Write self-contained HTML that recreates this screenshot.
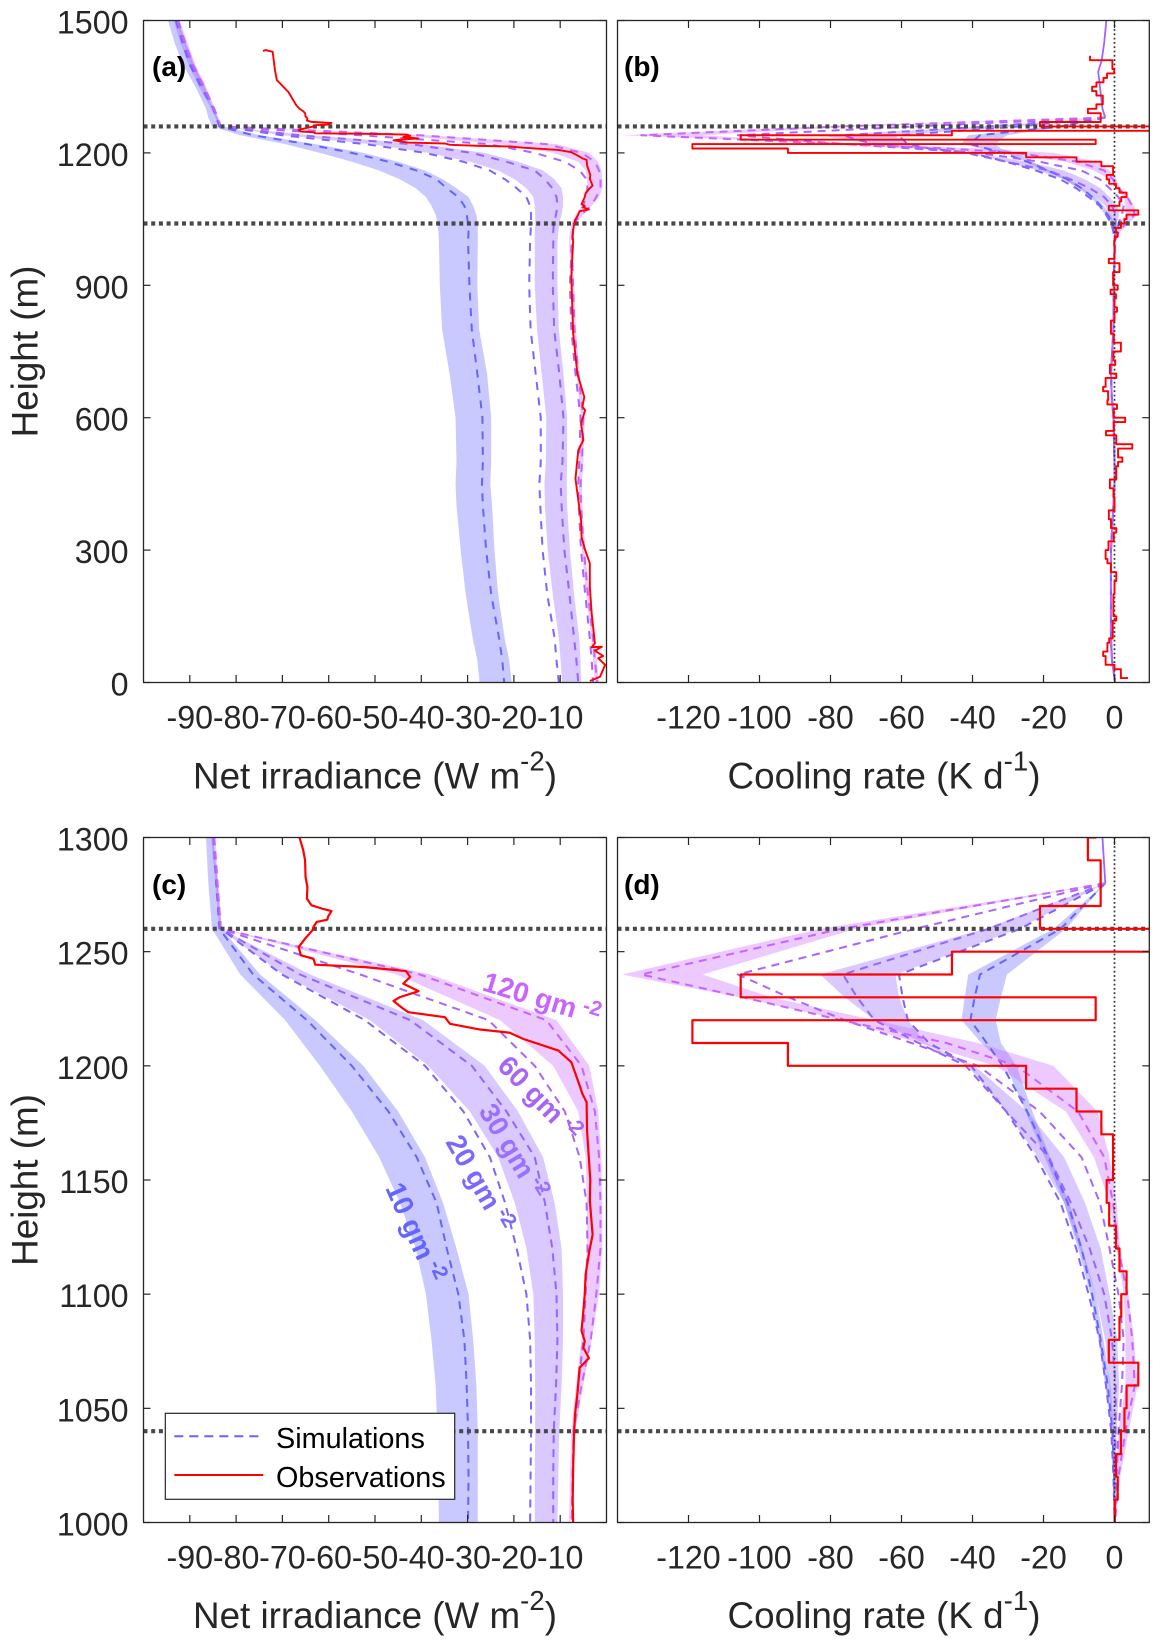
<!DOCTYPE html>
<html lang="en">
<head>
<meta charset="utf-8">
<title>Net irradiance and cooling rate profiles</title>
<style>
html,body{margin:0;padding:0;background:#fff;overflow:hidden;width:1160px;height:1646px;}
svg{display:block;font-family:"Liberation Sans",sans-serif;}
.tick{font-size:32.2px;fill:#262626;}
.title{font-size:36.8px;fill:#262626;}
.plabel{font-size:28px;font-weight:bold;fill:#000;}
.clabel{font-size:28px;font-weight:bold;}
.leg{font-size:28.8px;fill:#000;}
</style>
</head>
<body>
<svg id="chart" xmlns="http://www.w3.org/2000/svg" width="1160" height="1646" viewBox="0 0 1160 1646">
<rect x="0" y="0" width="1160" height="1646" fill="#fff"/>
<defs>
<clipPath id="clip-a"><rect x="143.5" y="20.5" width="463" height="662"/></clipPath>
<clipPath id="clip-b"><rect x="617.5" y="20.5" width="531.8" height="662"/></clipPath>
<clipPath id="clip-c"><rect x="143.5" y="837.5" width="463" height="685"/></clipPath>
<clipPath id="clip-d"><rect x="617.5" y="837.5" width="531.8" height="685"/></clipPath>
</defs>
<g id="marks"></g>
<g id="axes"></g>
<g id="texts">
<text class="title" text-anchor="middle" transform="translate(37.5,351.5) rotate(-90)">Height (m)</text>
<text class="title" text-anchor="middle" transform="translate(37.5,1180) rotate(-90)">Height (m)</text>
<text class="title" x="375" y="788.7" text-anchor="middle">Net irradiance (W m<tspan font-size="27.6" dy="-18">-2</tspan><tspan dy="18">)</tspan></text>
<text class="title" x="884" y="788.7" text-anchor="middle">Cooling rate (K d<tspan font-size="27.6" dy="-18">-1</tspan><tspan dy="18">)</tspan></text>
<text class="title" x="375" y="1628" text-anchor="middle">Net irradiance (W m<tspan font-size="27.6" dy="-18">-2</tspan><tspan dy="18">)</tspan></text>
<text class="title" x="884" y="1628" text-anchor="middle">Cooling rate (K d<tspan font-size="27.6" dy="-18">-1</tspan><tspan dy="18">)</tspan></text>
<text class="plabel" x="152" y="76">(a)</text>
<text class="plabel" x="624" y="76">(b)</text>
<text class="plabel" x="152" y="894">(c)</text>
<text class="plabel" x="624" y="894">(d)</text>
<text class="clabel" fill="#c864ff" transform="translate(481,990) rotate(17)">120 gm<tspan font-size="21" dy="-9" dx="6">-2</tspan></text>
<text class="clabel" fill="#a864f5" transform="translate(496,1067) rotate(46)">60 gm<tspan font-size="21" dy="-9" dx="6">-2</tspan></text>
<text class="clabel" fill="#9a70ff" transform="translate(478,1111) rotate(59)">30 gm<tspan font-size="21" dy="-9" dx="6">-2</tspan></text>
<text class="clabel" fill="#7a68ff" transform="translate(445,1142) rotate(60)">20 gm<tspan font-size="21" dy="-9" dx="6">-2</tspan></text>
<text class="clabel" fill="#6464ff" transform="translate(385,1188) rotate(66)">10 gm<tspan font-size="21" dy="-9" dx="6">-2</tspan></text>
<g>
<rect x="165.3" y="1413.3" width="289.4" height="86" fill="#fff" stroke="#262626" stroke-width="1.2"/>
<line x1="174.3" x2="263.3" y1="1436.3" y2="1436.3" stroke="#6464ff" stroke-width="2" stroke-dasharray="9 6"/>
<text class="leg" x="276" y="1448">Simulations</text>
<line x1="174.3" x2="263.3" y1="1475" y2="1475" stroke="#ff0000" stroke-width="2"/>
<text class="leg" x="276" y="1487">Observations</text>
</g>
</g>
</svg>
<script>
// ---------- Net irradiance profiles (W m-2) ----------
const netHeights=[1500,1450,1400,1350,1300,1280,1260,1240,1220,1200,1180,1160,1140,1120,1100,1080,1060,1040,1020,1000,900,800,700,600,500,450,400,300,200,100,50,0];
const net10Low=[-94.7,-93.3,-91.5,-88.8,-86.5,-86.0,-85.2,-79.1,-69.4,-61.9,-55.0,-49.1,-44.6,-41.2,-39.0,-37.8,-36.9,-36.5,-36.3,-36.2,-36.0,-35.5,-33.9,-32.6,-32.4,-32.6,-32.4,-31.5,-30.4,-28.9,-27.9,-27.4];
const net10High=[-92.4,-91.0,-89.2,-86.8,-84.9,-84.0,-83.1,-74.8,-62.9,-52.5,-45.0,-39.2,-35.3,-32.4,-29.8,-28.8,-28.1,-27.8,-27.8,-27.8,-27.9,-27.5,-25.8,-24.9,-24.9,-25.1,-24.7,-24.2,-23.4,-22.0,-21.0,-20.5];
const net10=[-93.0,-91.6,-90.0,-87.6,-84.9,-84.3,-83.6,-76.3,-64.7,-55.0,-47.1,-41.0,-36.7,-34.5,-32.0,-30.7,-30.2,-29.9,-29.8,-29.9,-29.6,-29.1,-27.9,-26.8,-26.7,-26.9,-26.7,-26.0,-24.9,-23.2,-22.5,-22.1];
const net20=[-92.9,-91.4,-89.8,-87.3,-84.9,-84.3,-83.3,-70.1,-52.2,-39.2,-30.9,-25.2,-21.9,-19.4,-17.3,-16.5,-16.3,-16.3,-16.4,-16.5,-16.7,-16.4,-15.3,-14.2,-14.2,-14.5,-14.3,-13.8,-12.8,-11.2,-10.8,-10.3];
const net30Low=[-93.5,-92.0,-90.3,-88.0,-85.4,-84.5,-83.6,-69.8,-51.1,-38.5,-29.5,-23.4,-19.8,-17.3,-15.8,-15.5,-15.4,-15.4,-15.5,-15.5,-15.5,-15.0,-14.0,-13.0,-13.1,-13.4,-13.3,-12.7,-11.6,-10.3,-9.9,-9.6];
const net30High=[-92.6,-90.8,-89.0,-86.8,-85.0,-84.0,-83.3,-64.0,-39.6,-26.3,-19.1,-13.7,-11.2,-9.7,-9.4,-9.4,-9.7,-10.2,-10.4,-10.6,-10.6,-10.3,-9.3,-8.5,-8.5,-8.6,-8.5,-7.9,-7.0,-5.9,-5.6,-5.5];
const net30=[-92.8,-91.3,-89.6,-87.2,-84.9,-84.3,-83.3,-66.2,-42.4,-29.1,-21.6,-15.5,-13.3,-11.7,-10.8,-10.6,-10.9,-11.4,-11.5,-11.5,-11.6,-11.3,-10.2,-9.3,-9.5,-9.9,-9.7,-9.1,-8.0,-7.0,-6.5,-6.1];
const net60=[-92.6,-91.1,-89.4,-87.0,-84.8,-84.1,-83.3,-53.2,-25.5,-15.5,-9.0,-5.8,-4.3,-4.1,-4.5,-5.0,-6.1,-7.1,-7.3,-7.5,-7.9,-7.6,-6.7,-5.6,-5.9,-6.1,-6.0,-5.5,-4.6,-3.6,-3.2,-2.9];
const net120Low=[-92.9,-91.2,-89.6,-87.2,-85.0,-84.2,-83.3,-45.3,-23.0,-11.5,-6.1,-4.5,-4.2,-4.2,-4.9,-5.4,-6.6,-7.6,-7.9,-8.1,-7.7,-7.4,-6.5,-5.5,-5.8,-6.0,-5.8,-5.3,-4.4,-3.3,-2.9,-2.5];
const net120High=[-92.2,-90.5,-88.8,-86.5,-84.5,-83.8,-83.1,-38.1,-10.8,-3.7,-1.8,-1.1,-0.9,-0.9,-1.6,-3.2,-5.0,-6.8,-7.3,-7.8,-7.0,-6.6,-5.8,-4.7,-5.0,-5.3,-5.2,-4.6,-3.7,-2.6,-2.1,-1.6];
const net120=[-92.5,-91.0,-89.3,-86.9,-84.7,-84.0,-83.3,-40.3,-13.0,-5.4,-2.5,-1.6,-1.3,-1.3,-2.2,-3.4,-5.4,-7.1,-7.3,-7.5,-7.2,-6.9,-6.1,-5.0,-5.3,-5.6,-5.5,-4.9,-4.0,-2.9,-2.5,-2.0];
// Observed net irradiance
const obsNetHeights=[1431,1433,1429,1387,1365,1338,1308,1300,1294.4,1290,1282.7,1278.4,1273.2,1270.3,1268.9,1267.8,1265.5,1264,1263,1260.8,1259.4,1255.7,1252,1248.4,1246.9,1244.3,1243.3,1241.5,1238.9,1236,1232.7,1230.1,1228.4,1225,1223.5,1221.3,1218.4,1215.9,1214.5,1211.8,1206.7,1201.6,1191.4,1187.7,1184.1,1171.6,1150,1141,1126,1119,1108.8,1100,1092.7,1083.9,1079.5,1076.6,1072,1067.8,1056.1,1047.4,1038.6,1024,1009.4,1000,919,791,700,647,625,617,587,549,526,462,398,368,330,300,270,217,157,108,89,80,81,72,60,55,40,13,3.4];
const obsNetValues=[-74.2,-73.6,-72.1,-71.6,-71.2,-68.7,-67.0,-66.3,-65.5,-65.1,-65.0,-64.6,-64.7,-63.7,-61.5,-59.4,-60.1,-60.3,-62.6,-63.3,-63.5,-65.1,-66.5,-66.0,-63.3,-62.9,-52.5,-43.3,-42.4,-43.9,-40.6,-44.6,-46.0,-43.9,-42.8,-34.9,-33.8,-27.3,-20.9,-18.0,-10.4,-7.6,-5.8,-5.2,-4.3,-4.2,-3.5,-3.6,-3.0,-3.7,-4.5,-4.7,-5.0,-5.4,-4.7,-5.0,-3.8,-5.8,-6.3,-6.8,-7.0,-7.2,-7.3,-7.2,-7.6,-7.2,-6.3,-4.8,-5.2,-4.6,-5.5,-5.0,-6.1,-6.7,-5.9,-5.5,-5.4,-4.6,-3.6,-3.6,-3.2,-2.7,-2.5,-3.2,-1.0,-2.5,-0.7,-1.8,-0.3,-1.4,-3.6];
// ---------- Cooling-rate profiles (K d-1) ----------
const coolAboveHeights=[1500,1450,1410,1384,1350,1300,1280];
const coolAboveValues=[-2.3,-2.9,-3.6,-4.6,-4.1,-3.4,-2.6];
const coolCloudHeights=[1260,1240,1230,1220,1210,1200,1180,1160,1140,1120,1100,1080,1060,1040,1020,1000];
const coolBelowHeights=[900,800,700,650,600,500,450,400,300,200,100,50,0];
const coolBelowValues=[-0.2,-0.3,-1.0,-0.8,-0.3,0,0,-0.3,-1.0,-1.0,-1.0,-0.7,0.2];
const cool10Low=[-17.2,-41.2,-42.2,-43.1,-37.5,-30.5,-25.1,-19.7,-14.2,-10.3,-6.8,-4.5,-2.6,-0.7,-0.2,0];
const cool10High=[-13.7,-30.3,-32,-33.5,-32,-27.6,-23.1,-18.2,-12.7,-9.0,-5.3,-3.1,-1.1,-0.1,0.4,0.1];
const cool10=[-15.2,-37.9,-39.4,-40.6,-36,-31.5,-24.6,-18.7,-13.2,-9.3,-6.3,-3.9,-1.9,-0.6,-0.1,0];
const cool20=[-26.6,-60.7,-59.7,-58.2,-52.3,-40.4,-30.5,-22.1,-15.2,-10.8,-7.3,-4.2,-2.4,-0.9,-0.3,0];
const cool30Low=[-36.5,-82.9,-76,-67.6,-53.8,-41.4,-30.5,-21.6,-14.2,-9.8,-5.3,-2.6,-1.4,-0.7,-0.2,0];
const cool30High=[-27.1,-61.7,-60.7,-58.2,-53.3,-39.4,-24.6,-14.2,-8.3,-3.9,-1.4,0.8,1.3,0.6,0.3,0.1];
const cool30=[-35.5,-76.5,-72.5,-67.6,-55.2,-41.9,-30.5,-18.5,-12.3,-7,-2.9,-0.7,0.3,0.3,0.2,0.1];
const cool60=[-56.2,-106.1,-91.8,-76,-57.2,-38.4,-21.1,-9.3,-4.1,-1.4,1.1,2.6,2.1,1.1,0.6,0.1];
const cool120Low=[-82.9,-138.7,-105.6,-76.5,-55.2,-33.5,-13.7,-5.8,-1.4,0.6,2.6,3.1,3.1,1.1,0.6,0.1];
const cool120High=[-73,-116,-96.7,-67.6,-38.4,-17.2,-4.8,-1.4,0.6,1.6,3.9,5.5,6.5,4,1.6,0.2];
const cool120=[-77,-133.3,-104.6,-77,-47.3,-27.6,-10.3,-2.9,-0.4,1.1,3.6,5,5.7,3.1,1.1,0.2];
// Observed cooling rate: top height of each step and its value
const obsCoolTops=[1420,1410,1390,1380,1370,1360,1350,1340,1330,1310,1300,1290,1270,1260,1250,1240,1230,1220,1210,1200,1190,1180,1170,1150,1140,1130,1120,1110,1100,1090,1080,1070,1060,1050,1040,1030,1020,1010,1000,990,960,950,930,900,890,880,870,850,840,820,790,770,750,730,720,700,690,670,660,640,630,620,600,590,570,560,540,530,510,500,490,460,440,420,390,370,350,340,320,300,280,270,250,230,200,150,140,100,90,70,60,40,30,10];
const obsCoolValues=[-6.9,-0.6,-0.1,-2.1,-3.1,-5.1,-6.3,-5.1,-3.3,-5.1,-7.5,-3.9,-21,12,-45.8,-105.3,-5.3,-118.9,-92,-24.9,-10.7,-3.7,-0.4,-2.2,-1.5,0.4,1.4,3.4,1.9,1.4,-1.6,6.7,3.4,2.8,1.8,0.4,0.9,0.1,-0.1,0,-1.6,1.4,-0.4,0.9,-1.1,0.4,0,0.7,0,-1,-0.2,1.8,-0.3,0.2,-1.3,0.5,-2.5,-3.2,-1.8,-2,0.7,-0.2,3,-0.2,-2.4,0.5,5,1,2.2,1,0.5,-1.3,-0.3,0,-1.6,-1,0.5,-0.2,-1.7,-2.5,-2,-1,0.5,0,-0.3,0.5,-0.5,-1.5,-2,-3.2,-2.5,0,1.8,3.8];
// ---------- Reference heights and ticks ----------
const inversionHeights=[1260,1040];
const netTickValues=[-90,-80,-70,-60,-50,-40,-30,-20,-10];
const netTickLabels=["-90","-80","-70","-60","-50","-40","-30","-20","-10"];
const coolTickValues=[-120,-100,-80,-60,-40,-20,0];
const coolTickLabels=["-120","-100","-80","-60","-40","-20","0"];
const topHeightTicks=[0,300,600,900,1200,1500];
const bottomHeightTicks=[1000,1050,1100,1150,1200,1250,1300];

const NS="http://www.w3.org/2000/svg";
const marksRoot=document.getElementById('marks');
const axesRoot=document.getElementById('axes');
function make(tag,parent){const n=document.createElementNS(NS,tag);parent.appendChild(n);return n;}
function linear(d0,d1,r0,r1){return function(v){return r0+(v-d0)/(d1-d0)*(r1-r0);};}
// Keep only the part of a profile inside the panel's height range.
function limit(vals,hs,lo,hi){
  const v=[],h=[];
  for(let i=0;i<hs.length;i++){
    if(hs[i]>=lo&&hs[i]<=hi){v.push(vals[i]);h.push(hs[i]);}
    if(i<hs.length-1){
      [hi,lo].forEach(function(b){
        if((hs[i]-b)*(hs[i+1]-b)<0){
          const f=(b-hs[i])/(hs[i+1]-hs[i]);
          v.push(vals[i]+f*(vals[i+1]-vals[i]));
          h.push(b);
        }
      });
    }
  }
  return {v:v,h:h};
}
function pts(s,sx,sy){return s.v.map(function(v,i){return sx(v).toFixed(2)+','+sy(s.h[i]).toFixed(2);}).join(' ');}
function band(g,low,high,hs,color,ax,name){
  const a=limit(low,hs,ax.lo,ax.hi), b=limit(high,hs,ax.lo,ax.hi);
  const rev={v:b.v.slice().reverse(),h:b.h.slice().reverse()};
  const p=make('polygon',g);
  p.setAttribute('points',pts(a,ax.sx,ax.sy)+' '+pts(rev,ax.sx,ax.sy));
  p.setAttribute('fill',color);
  p.setAttribute('fill-opacity','0.35');
  p.setAttribute('stroke','none');
  
  
}
function curve(g,vals,hs,color,w,dash,ax,name){
  const p=make('polyline',g);
  p.setAttribute('points',pts(limit(vals,hs,ax.lo,ax.hi),ax.sx,ax.sy));
  p.setAttribute('fill','none');
  p.setAttribute('stroke',color);
  p.setAttribute('stroke-width',w);
  p.setAttribute('stroke-linejoin','round');
  if(dash){p.setAttribute('stroke-dasharray',dash);}
  
  
}
function frameAndTicks(pid,box,sx,sy,xv,xl,yv,labelY){
  const g=make('g',axesRoot);
  
  
  const r=make('rect',g);
  r.setAttribute('x',box.x0);r.setAttribute('y',box.y1);
  r.setAttribute('width',box.x1-box.x0);r.setAttribute('height',box.y0-box.y1);
  r.setAttribute('fill','none');r.setAttribute('stroke','#262626');r.setAttribute('stroke-width','1.3');
  
  
  xv.forEach(function(v,i){
    const x=sx(v);
    [[box.y0,box.y0-7.5],[box.y1,box.y1+7.5]].forEach(function(e){
      const l=make('line',g);
      l.setAttribute('x1',x);l.setAttribute('x2',x);l.setAttribute('y1',e[0]);l.setAttribute('y2',e[1]);
      l.setAttribute('stroke','#262626');l.setAttribute('stroke-width','1.2');
      
      
    });
    const t=make('text',g);
    t.setAttribute('x',x);t.setAttribute('y',box.y0+46.2);
    t.setAttribute('text-anchor','middle');t.setAttribute('class','tick');
    t.textContent=xl[i];
    
    
  });
  yv.forEach(function(v){
    const y=sy(v);
    [[box.x0,box.x0+7],[box.x1,box.x1-7]].forEach(function(e){
      const l=make('line',g);
      l.setAttribute('y1',y);l.setAttribute('y2',y);l.setAttribute('x1',e[0]);l.setAttribute('x2',e[1]);
      l.setAttribute('stroke','#262626');l.setAttribute('stroke-width','1.2');
      
      
    });
    if(labelY){
      const t=make('text',g);
      t.setAttribute('x',128.5);t.setAttribute('y',y+13);
      t.setAttribute('text-anchor','end');t.setAttribute('class','tick');
      t.textContent=String(v);
      
      
    }
  });
}
function refLines(g,box,sx,sy,showZero){
  inversionHeights.forEach(function(h){
    const l=make('line',g);
    l.setAttribute('x1',box.x0);l.setAttribute('x2',box.x1);
    l.setAttribute('y1',sy(h));l.setAttribute('y2',sy(h));
    l.setAttribute('stroke','#484848');l.setAttribute('stroke-width','4.2');
    l.setAttribute('stroke-dasharray','4 3.7');
    
    
  });
  if(showZero){
    const z=make('line',g);
    z.setAttribute('x1',sx(0));z.setAttribute('x2',sx(0));
    z.setAttribute('y1',box.y1);z.setAttribute('y2',box.y0);
    z.setAttribute('stroke','#333');z.setAttribute('stroke-width','1.7');
    z.setAttribute('stroke-dasharray','1.8 2.5');
    
    
  }
}
function netPanel(pid,box,hMin,hMax,yticks,dash,redW){
  const sx=linear(-100,0,box.x0,box.x1), sy=linear(hMin,hMax,box.y0,box.y1);
  const ax={sx:sx,sy:sy,lo:hMin,hi:hMax};
  const g=make('g',marksRoot);
  g.setAttribute('clip-path','url(#clip-'+pid+')');
  
  
  band(g,net10Low,net10High,netHeights,'#6464ff',ax,'band-10-gm2');
  band(g,net30Low,net30High,netHeights,'#9664ff',ax,'band-30-gm2');
  band(g,net120Low,net120High,netHeights,'#c864ff',ax,'band-120-gm2');
  curve(g,net10,netHeights,'#6464ff',2,dash,ax,'sim-line-10-gm2');
  curve(g,net20,netHeights,'#7d64ff',2,dash,ax,'sim-line-20-gm2');
  curve(g,net30,netHeights,'#9664ff',2,dash,ax,'sim-line-30-gm2');
  curve(g,net60,netHeights,'#aa64ff',2,dash,ax,'sim-line-60-gm2');
  curve(g,net120,netHeights,'#c864ff',2,dash,ax,'sim-line-120-gm2');
  refLines(g,box,sx,sy,false);
  curve(g,obsNetValues,obsNetHeights,'#ff0000',redW,null,ax,'observed-net-irradiance');
  frameAndTicks(pid,box,sx,sy,netTickValues,netTickLabels,yticks,true);
}
function coolPanel(pid,box,hMin,hMax,yticks,dash,redW){
  const sx=linear(-140,9.8,box.x0,box.x1), sy=linear(hMin,hMax,box.y0,box.y1);
  const ax={sx:sx,sy:sy,lo:hMin,hi:hMax};
  const g=make('g',marksRoot);
  g.setAttribute('clip-path','url(#clip-'+pid+')');
  
  
  const topH=coolAboveHeights.slice(-1).concat(coolCloudHeights,coolBelowHeights);
  const ext=function(a){return coolAboveValues.slice(-1).concat(a,coolBelowValues);};
  band(g,ext(cool10Low),ext(cool10High),topH,'#6464ff',ax,'band-10-gm2');
  band(g,ext(cool30Low),ext(cool30High),topH,'#9664ff',ax,'band-30-gm2');
  band(g,ext(cool120Low),ext(cool120High),topH,'#c864ff',ax,'band-120-gm2');
  curve(g,ext(cool10),topH,'#6464ff',2,dash,ax,'sim-line-10-gm2');
  curve(g,ext(cool20),topH,'#7d64ff',2,dash,ax,'sim-line-20-gm2');
  curve(g,ext(cool30),topH,'#9664ff',2,dash,ax,'sim-line-30-gm2');
  curve(g,ext(cool60),topH,'#aa64ff',2,dash,ax,'sim-line-60-gm2');
  curve(g,ext(cool120),topH,'#c864ff',2,dash,ax,'sim-line-120-gm2');
  curve(g,coolAboveValues,coolAboveHeights,'#a064ff',1.8,null,ax,'sim-line-above-cloud');
  refLines(g,box,sx,sy,true);
  const sv=[],sh=[];
  obsCoolTops.forEach(function(top,i){
    sv.push(obsCoolValues[i]);sh.push(top);
    const next=i+1<obsCoolTops.length?obsCoolTops[i+1]:top;
    sv.push(obsCoolValues[i]);sh.push(next);
  });
  curve(g,sv,sh,'#ff0000',redW,null,ax,'observed-cooling-rate');
  frameAndTicks(pid,box,sx,sy,coolTickValues,coolTickLabels,yticks,false);
}
netPanel('a',{x0:143.5,x1:606.5,y0:682.5,y1:20.5},0,1500,topHeightTicks,'8 7.5',1.9);
coolPanel('b',{x0:617.5,x1:1149.3,y0:682.5,y1:20.5},0,1500,topHeightTicks,'8 6',1.9);
netPanel('c',{x0:143.5,x1:606.5,y0:1522.5,y1:837.5},1000,1300,bottomHeightTicks,'8 6',2.2);
coolPanel('d',{x0:617.5,x1:1149.3,y0:1522.5,y1:837.5},1000,1300,bottomHeightTicks,'8 6',2.2);
</script>
</body>
</html>
